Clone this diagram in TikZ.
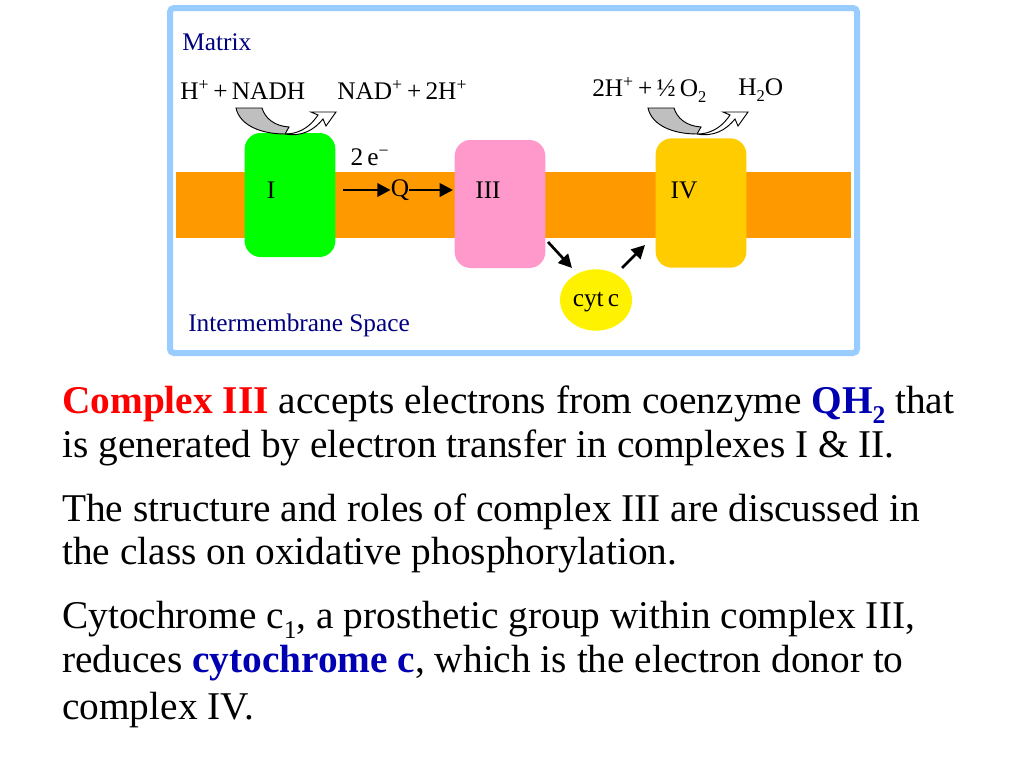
\documentclass[tikz,border=0pt]{standalone}
\usepackage{fontspec}
\setmainfont{Liberation Serif}
\usetikzlibrary{arrows.meta,shapes.geometric}
\definecolor{navy}{HTML}{000080}
\definecolor{frame}{HTML}{99CCFF}
\newcommand{\sps}[1]{\textsuperscript{#1}}
\newcommand{\sbs}[1]{\raisebox{-0.25em}{\scalebox{0.65}{#1}}}
\begin{document}
\begin{tikzpicture}[x=0.75pt,y=-0.75pt,
  cx/.style={rounded corners=12pt,draw=none,minimum width=68pt,inner sep=0pt},
  lab/.style={font=\fontsize{19pt}{21pt}\selectfont,inner sep=0pt},
  body/.style={font=\fontsize{29.5pt}{32pt}\selectfont,anchor=west,inner sep=0pt},
  sa/.style={-{Triangle[length=10pt,width=10pt]},line width=2pt}]
\useasboundingbox (0,0) rectangle (1024,768);
\fill[white] (0,0) rectangle (1024,768);
\draw[frame,line width=4.5pt,rounded corners=3pt] (170,8) rectangle (857,353);
\fill[fill={rgb,255:red,255;green,153;blue,0}] (176,172) rectangle (851,238);
\node[cx,fill={rgb,255:red,0;green,255;blue,0},minimum height=93pt] (c1) at (290,195) {};
\node[cx,fill={rgb,255:red,255;green,153;blue,204},minimum height=96pt] (c3) at (500,204) {};
\node[cx,fill={rgb,255:red,255;green,204;blue,0},minimum height=97pt] (c4) at (701,203) {};
\node[ellipse,fill=yellow,minimum width=54pt,minimum height=46pt,inner sep=0pt] (cyt) at (596,300) {};
\node[lab] (l1) at (271,190) {I};
\node[lab] (l3) at (488,190) {III};
\node[lab] (l4) at (684,190) {IV};
\node[lab] (q) at (400,190) {Q};
\node[lab] (e) at (370,157) {2\,e\sps{−}};
\node[lab] (cl) at (596,302) {cyt\,c};
\coordinate (a1) at (343,190); \coordinate (a3) at (453,190);
\draw[sa] (a1) -- (q.west);
\draw[sa] (q.east) -- (a3);
\coordinate (b1) at (548,242); \coordinate (b2) at (572,268);
\coordinate (d1) at (622,268); \coordinate (d2) at (645,245);
\draw[sa] (b1) -- (b2);
\draw[sa] (d1) -- (d2);
\node[lab,anchor=west,text=navy] (mx) at (182,42) {Matrix};
\node[lab,anchor=west,text=navy] (ims) at (188,325) {Intermembrane Space};
\node[lab,anchor=west] (r1) at (180,90) {H\sps{+}\,+\,NADH};
\node[lab,anchor=west] (r2) at (337,90) {NAD\sps{+}\,+\,2H\sps{+}};
\node[lab,anchor=west] (r3) at (592,90) {2H\sps{+}\,+\,½\,O\sbs{2}};
\node[lab,anchor=west] (r4) at (738,90) {H\sbs{2}O};
\foreach \dx in {0,412}{
\begin{scope}[xshift=\dx*0.75pt]
\filldraw[fill=gray!50,draw=black,line width=0.7pt] (236,108) .. controls (240,126) and (262,134) .. (285,134) -- (289,127) .. controls (274,126) and (265,118) .. (262,108) -- cycle;
\filldraw[fill=white,draw=black,line width=0.7pt] (285,134) .. controls (302,134) and (312,124) .. (318,115) -- (311,112) -- (336,112) -- (326,126) -- (323,119) .. controls (314,130) and (302,137) .. (285,134) -- cycle;
\end{scope}}
\node[body] (t1) at (62,405) {\textcolor{red}{\textbf{Complex III}} accepts electrons from coenzyme \textcolor{blue!70!black}{\textbf{QH\sbs{2}}} that};
\node[body] (t2) at (62,448) {is generated by electron transfer in complexes I \& II.};
\node[body] (t3) at (62,512) {The structure and roles of complex III are discussed in};
\node[body] (t4) at (62,555) {the class on oxidative phosphorylation.};
\node[body] (t5) at (62,620) {Cytochrome c\sbs{1}, a prosthetic group within complex III,};
\node[body] (t6) at (62,663) {reduces \textcolor{blue!70!black}{\textbf{cytochrome c}}, which is the electron donor to};
\node[body] (t7) at (62,710) {complex IV.};
\end{tikzpicture}
\end{document}
